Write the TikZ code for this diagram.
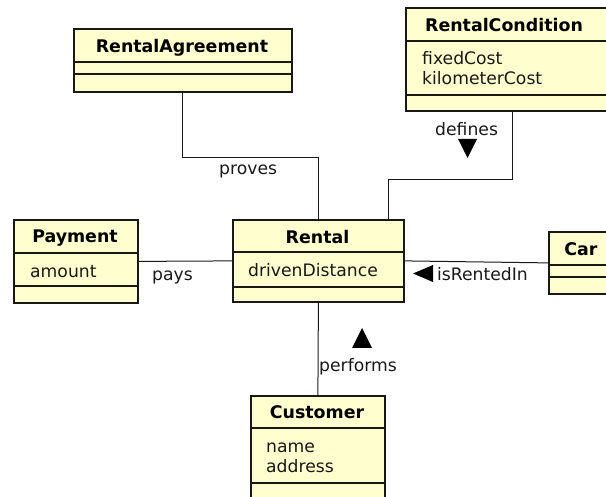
\documentclass[tikz,border=0pt]{standalone}
\usepackage{fontspec}
\setmainfont{DejaVu Sans}
\usetikzlibrary{calc}
\definecolor{classfill}{HTML}{FEFECE}
\definecolor{ink}{HTML}{181818}
\tikzset{
  classbox/.style={draw=ink, line width=1.8pt, fill=classfill, anchor=north west, inner sep=0pt},
  sepline/.style={draw=ink, line width=1.1pt},
  conn/.style={draw=ink, line width=1pt},
  title/.style={anchor=base, inner sep=0pt, font=\fontsize{17.4}{20}\selectfont\bfseries},
  attr/.style={anchor=base west, inner sep=0pt, font=\fontsize{17.2}{20}\selectfont, text=ink},
  lbl/.style={anchor=base west, inner sep=0pt, font=\fontsize{17.2}{20}\selectfont, text=ink},
  dirmark/.style={fill=black, draw=none}
}
\begin{document}
\begin{tikzpicture}[x=1pt, y=-1pt]
\useasboundingbox (0,0) rectangle (606,497);
\clip (0,0) rectangle (606,497);

% class boxes
\node[classbox, minimum width=218pt, minimum height=63pt] (ra) at (73,28) {};
\node[classbox, minimum width=215pt, minimum height=103pt] (rc) at (405,7) {};
\node[classbox, minimum width=124pt, minimum height=83pt] (pay) at (13,219) {};
\node[classbox, minimum width=171pt, minimum height=82pt] (rental) at (232,219) {};
\node[classbox, minimum width=66pt, minimum height=62pt] (car) at (548,231) {};
\node[classbox, minimum width=134pt, minimum height=110pt] (cust) at (250,395) {};

% compartment separators
\draw[sepline] (73,62) -- (291,62) (73,74) -- (291,74);
\draw[sepline] (405,41) -- (620,41) (405,95) -- (620,95);
\draw[sepline] (13,253) -- (137,253) (13,286) -- (137,286);
\draw[sepline] (232,252) -- (403,252) (232,287) -- (403,287);
\draw[sepline] (548,265) -- (614,265) (548,277) -- (614,277);
\draw[sepline] (250,428) -- (384,428) (250,483) -- (384,483);

% class names
\node[title] (raT) at (182,53) {RentalAgreement};
\node[title] (rcT) at (504,32) {RentalCondition};
\node[title] (payT) at (75,243) {Payment};
\node[title] (rentalT) at (317.5,244) {Rental};
\node[title] (carT) at (581,256) {Car};
\node[title] (custT) at (317,419) {Customer};

% attributes
\node[attr] (rcA1) at (422,65) {fixedCost};
\node[attr] (rcA2) at (422,85) {kilometerCost};
\node[attr] (payA1) at (30,278) {amount};
\node[attr] (rentalA1) at (248,277) {drivenDistance};
\node[attr] (custA1) at (266,453) {name};
\node[attr] (custA2) at (266,473) {address};

% associations
\draw[conn] (ra.south) -- ++(0,65) -| (rental.north);
\draw[conn] ($(rc.south west)+(107,0)$) -- ++(0,68) -| ($(rental.north east)+(-16,0)$);
\draw[conn] (pay.east) -- (rental.west);
\draw[conn] (rental.east) -- (car.west);
\draw[conn] (rental.south) -- (cust.north);

% association names and reading directions
\node[lbl] (lproves) at (219,175) {proves};
\node[lbl] (ldefines) at (435,136) {defines};
\fill[dirmark] (458,139) -- (477,139) -- (467.5,158) -- cycle;
\node[lbl] (lpays) at (152,281) {pays};
\node[lbl] (lrented) at (437,281) {isRentedIn};
\fill[dirmark] (413,273.5) -- (433,265) -- (433,282) -- cycle;
\node[lbl] (lperforms) at (319,372) {performs};
\fill[dirmark] (352,348) -- (372,348) -- (362,328) -- cycle;
\end{tikzpicture}
\end{document}
